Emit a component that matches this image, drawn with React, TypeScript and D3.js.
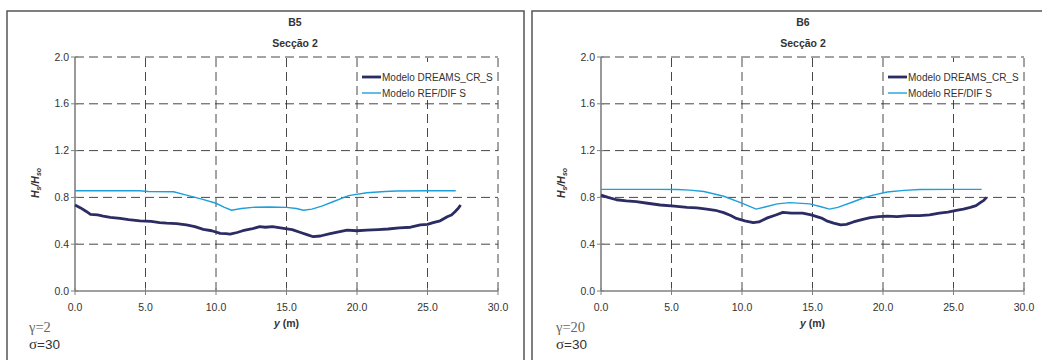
import React from "react";
import * as d3 from "d3";

const xTicks = [0, 5, 10, 15, 20, 25, 30];
const yTicks = [0, 0.4, 0.8, 1.2, 1.6, 2.0];
const seriesNames = ["Modelo DREAMS_CR_S", "Modelo REF/DIF S"];

// B5 panel
const b5RefX = [0, 2, 4.6, 5.2, 7.0, 7.9, 9.0, 10.0, 10.6, 11.1, 11.8, 12.6, 13.8, 15.0, 15.7, 16.2, 16.8, 17.5, 18.3, 19.4, 20.7, 22.0, 22.8, 25.0, 27.0];
const b5RefY = [0.857, 0.857, 0.857, 0.85, 0.848, 0.82, 0.785, 0.75, 0.715, 0.69, 0.705, 0.715, 0.718, 0.715, 0.705, 0.69, 0.70, 0.725, 0.763, 0.815, 0.84, 0.85, 0.855, 0.857, 0.857];
const b5DrX = [0, 0.4, 0.8, 1.1, 1.6, 2.0, 2.5, 3.2, 3.8, 4.6, 5.4, 6.0, 6.5, 7.2, 7.9, 8.5, 9.1, 9.7, 10.3, 10.7, 11.0, 11.5, 11.9, 12.5, 13.1, 13.5, 14.0, 14.8, 15.4, 16.0, 16.5, 16.9, 17.4, 18.1, 18.7, 19.3, 20.0, 20.7, 21.5, 22.2, 23.0, 23.8, 24.5, 25.0, 25.4, 25.9, 26.4, 26.7, 26.95, 27.2, 27.35];
const b5DrY = [0.735, 0.71, 0.68, 0.655, 0.65, 0.64, 0.63, 0.62, 0.61, 0.60, 0.595, 0.585, 0.58, 0.575, 0.565, 0.55, 0.527, 0.515, 0.493, 0.49, 0.487, 0.50, 0.515, 0.53, 0.55, 0.545, 0.55, 0.535, 0.525, 0.50, 0.48, 0.464, 0.47, 0.49, 0.505, 0.52, 0.515, 0.52, 0.525, 0.53, 0.54, 0.545, 0.565, 0.57, 0.585, 0.60, 0.635, 0.65, 0.678, 0.71, 0.735];

// B6 panel
const b6RefX = [0, 2, 4, 5.4, 6.3, 7.3, 8.7, 9.9, 10.5, 11.0, 11.7, 12.5, 13.4, 14.8, 15.6, 16.2, 16.8, 17.9, 18.6, 19.3, 20.3, 21.5, 22.6, 25.0, 27.0];
const b6RefY = [0.869, 0.869, 0.869, 0.868, 0.862, 0.85, 0.81, 0.755, 0.725, 0.70, 0.72, 0.745, 0.755, 0.745, 0.72, 0.70, 0.715, 0.763, 0.795, 0.82, 0.846, 0.86, 0.867, 0.869, 0.869];
const b6DrX = [0, 0.5, 1.1, 1.8, 2.5, 3.3, 4.2, 5.2, 6.1, 6.8, 7.5, 8.1, 8.7, 9.2, 9.6, 10.2, 10.8, 11.2, 11.8, 12.4, 12.9, 13.5, 14.3, 14.9, 15.3, 15.7, 16.0, 16.5, 17.0, 17.4, 17.9, 18.5, 19.1, 19.7, 20.3, 21.0, 21.8, 22.6, 23.3, 24.0, 24.6, 25.2, 25.7, 26.2, 26.6, 26.9, 27.15, 27.35];
const b6DrY = [0.82, 0.80, 0.78, 0.77, 0.763, 0.75, 0.735, 0.725, 0.715, 0.71, 0.70, 0.69, 0.67, 0.645, 0.62, 0.60, 0.585, 0.59, 0.625, 0.65, 0.672, 0.665, 0.665, 0.65, 0.635, 0.62, 0.60, 0.58, 0.565, 0.57, 0.59, 0.61, 0.627, 0.635, 0.64, 0.635, 0.645, 0.645, 0.65, 0.665, 0.675, 0.69, 0.70, 0.715, 0.73, 0.755, 0.775, 0.80];

const DARK = "#2c2c64";
const BLUE = "#1e9fdc";
const GRID = "#333";
const AXIS = "#808080";
const TXT = "#333";

type PanelProps = {
  ox: number;
  title: string;
  gamma: string;
  refX: number[];
  refY: number[];
  drX: number[];
  drY: number[];
  gammaX: number;
  titleX: number;
};

function Panel({ ox, title, gamma, refX, refY, drX, drY, gammaX, titleX }: PanelProps) {
  const x = d3.scaleLinear().domain([0, 30]).range([ox, ox + 423]);
  const y = d3.scaleLinear().domain([0, 2]).range([291, 57]);
  const line = d3
    .line<[number, number]>()
    .x((d) => x(d[0]))
    .y((d) => y(d[1]));
  const refPts = refX.map((v, i) => [v, refY[i]] as [number, number]);
  const drPts = drX.map((v, i) => [v, drY[i]] as [number, number]);
  const font = "Liberation Sans, Arial, sans-serif";
  const serif = "Liberation Serif, Times New Roman, serif";
  const lx = x(20) + 3;
  return (
    <g fontFamily={font}>
      {xTicks.slice(1).map((t) => (
        <line key={"gx" + t} x1={x(t)} x2={x(t)} y1={y(0)} y2={y(2)} stroke={GRID} strokeWidth={0.9} strokeDasharray="9,5" />
      ))}
      {yTicks.slice(1).map((t) => (
        <line key={"gy" + t} x1={x(0)} x2={x(30)} y1={y(t)} y2={y(t)} stroke={GRID} strokeWidth={0.9} strokeDasharray="9,5" />
      ))}
      <rect x={lx} y={y(2) + 5} width={x(30) - lx - 3} height={38} fill="#fff" />
      <line x1={x(0)} x2={x(0)} y1={y(0)} y2={y(2)} stroke={AXIS} strokeWidth={1.6} />
      <line x1={x(0)} x2={x(30)} y1={y(0)} y2={y(0)} stroke={AXIS} strokeWidth={1.6} />
      {yTicks.map((t) => (
        <g key={"ty" + t}>
          <line x1={x(0) - 4} x2={x(0) + 3} y1={y(t)} y2={y(t)} stroke={AXIS} strokeWidth={1} />
          <text x={x(0) - 6} y={y(t)} dy="0.35em" textAnchor="end" fontSize={10.5} fill={TXT}>
            {t.toFixed(1)}
          </text>
        </g>
      ))}
      {xTicks.map((t) => (
        <g key={"tx" + t}>
          <line x1={x(t)} x2={x(t)} y1={y(0) - 3} y2={y(0) + 4} stroke={AXIS} strokeWidth={1} />
          <text x={x(t)} y={y(0) + 20} textAnchor="middle" fontSize={10.5} fill={TXT}>
            {t.toFixed(1)}
          </text>
        </g>
      ))}
      <path d={line(refPts) || ""} fill="none" stroke={BLUE} strokeWidth={1.4} />
      <path d={line(drPts) || ""} fill="none" stroke={DARK} strokeWidth={2.8} strokeLinejoin="round" />
      <line x1={lx + 2} x2={lx + 21} y1={y(2) + 20} y2={y(2) + 20} stroke={DARK} strokeWidth={2.8} />
      <text x={lx + 22} y={y(2) + 20} dy="0.35em" fontSize={10} fill={TXT}>{seriesNames[0]}</text>
      <line x1={lx + 2} x2={lx + 21} y1={y(2) + 36} y2={y(2) + 36} stroke={BLUE} strokeWidth={1.4} />
      <text x={lx + 22} y={y(2) + 36} dy="0.35em" fontSize={10} fill={TXT}>{seriesNames[1]}</text>
      <text x={titleX} y={26} textAnchor="middle" fontSize={10.5} fontWeight="bold" fill={TXT}>{title}</text>
      <text x={titleX} y={47} textAnchor="middle" fontSize={10.5} fontWeight="bold" fill={TXT}>Secção 2</text>
      <text x={(x(0) + x(30)) / 2} y={327} textAnchor="middle" fontSize={10.5} fontWeight="bold" fill={TXT}>
        <tspan fontStyle="italic">y</tspan>
        <tspan>{"  (m)"}</tspan>
      </text>
      <text transform={`translate(${x(0) - 36},${183}) rotate(-90)`} textAnchor="middle" fontSize={10.5} fontWeight="bold" fontStyle="italic" fill={TXT}>
        <tspan>H</tspan>
        <tspan fontSize={7} dy={2}>s</tspan>
        <tspan dy={-2}>/H</tspan>
        <tspan fontSize={7} dy={2}>so</tspan>
      </text>
      <text x={gammaX} y={332} fontSize={14.5} fill="#666" fontFamily={serif}>{gamma}</text>
      <text x={gammaX} y={349} fontSize={13.5} fill={TXT}>
        <tspan fontFamily={serif} fontSize={15}>σ</tspan>
        <tspan>=30</tspan>
      </text>
    </g>
  );
}

export default function App() {
  return (
    <svg width={1042} height={360} style={{ position: "absolute", left: 0, top: 0, background: "#fff" }}>
      <rect x={0} y={0} width={1042} height={360} fill="#fff" />
      <rect x={7} y={11} width={517} height={360} fill="none" stroke="#555" strokeWidth={1.5} />
      <rect x={532} y={11} width={520} height={360} fill="none" stroke="#555" strokeWidth={1.5} />
      <Panel ox={75} title="B5" gamma="γ=2" refX={b5RefX} refY={b5RefY} drX={b5DrX} drY={b5DrY} gammaX={29} titleX={295} />
      <Panel ox={601} title="B6" gamma="γ=20" refX={b6RefX} refY={b6RefY} drX={b6DrX} drY={b6DrY} gammaX={556} titleX={803} />
    </svg>
  );
}
